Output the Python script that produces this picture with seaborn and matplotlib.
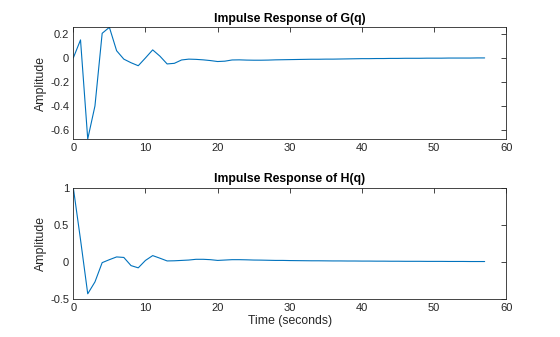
import numpy as np
import pandas as pd
import matplotlib
matplotlib.use("Agg")
import matplotlib.pyplot as plt
import seaborn as sns

time_s = list(range(58))
g_resp = [0.0, 0.15, -0.675, -0.40, 0.205, 0.255, 0.06, -0.01, -0.04, -0.065,
          0.0, 0.067, 0.015, -0.05, -0.045, -0.017, -0.01, -0.012, -0.016, -0.022,
          -0.03, -0.027, -0.017, -0.016, -0.018, -0.019, -0.019, -0.018, -0.016, -0.015,
          -0.014, -0.013, -0.012, -0.011, -0.011, -0.010, -0.010, -0.009, -0.008, -0.007,
          -0.006, -0.006, -0.005, -0.005, -0.004, -0.004, -0.003, -0.003, -0.003, -0.002,
          -0.002, -0.002, -0.001, -0.001, -0.001, -0.001, 0.0, 0.0]
h_resp = [1.0, 0.30, -0.43, -0.27, -0.01, 0.03, 0.067, 0.06, -0.05, -0.08,
          0.02, 0.085, 0.05, 0.013, 0.015, 0.02, 0.025, 0.035, 0.035, 0.03,
          0.02, 0.025, 0.03, 0.03, 0.028, 0.025, 0.024, 0.022, 0.02, 0.02,
          0.018, 0.017, 0.016, 0.015, 0.015, 0.014, 0.013, 0.013, 0.012, 0.012,
          0.011, 0.011, 0.010, 0.010, 0.009, 0.009, 0.008, 0.008, 0.008, 0.007,
          0.007, 0.007, 0.006, 0.006, 0.006, 0.005, 0.005, 0.005]
titles = ["Impulse Response of G(q)", "Impulse Response of H(q)"]
x_ticks = [0, 10, 20, 30, 40, 50, 60]
g_yticks = [-0.6, -0.4, -0.2, 0, 0.2]
h_yticks = [-0.5, 0, 0.5, 1]

sns.set_style("white")
plt.rcParams['font.family'] = ['Liberation Sans', 'DejaVu Sans']
plt.rcParams['axes.unicode_minus'] = False

df = pd.DataFrame({"t": time_s, "G": g_resp, "H": h_resp})

fig = plt.figure(figsize=(5.6, 3.37), dpi=100)
W, H = 560, 337
ax1 = fig.add_axes([73.3 / W, 1 - 139 / H, (506.3 - 73.3) / W, (139 - 27.3) / H])
ax2 = fig.add_axes([73.3 / W, 1 - 299 / H, (506.3 - 73.3) / W, (299 - 187.7) / H])

color = "#0072BD"
for ax, col, title, yt in [(ax1, "G", titles[0], g_yticks), (ax2, "H", titles[1], h_yticks)]:
    sns.lineplot(data=df, x="t", y=col, ax=ax, color=color, linewidth=0.8)
    ax.set_xlim(0, 60)
    ax.set_xticks(x_ticks)
    ax.set_yticks(yt)
    ax.set_yticklabels([("%g" % v) for v in yt])
    ax.set_title(title, fontsize=8.8, fontweight="bold", pad=4, color="black")
    ax.set_ylabel("Amplitude", fontsize=8.8, labelpad=2, color="#262626")
    ax.set_xlabel("")
    ax.tick_params(direction="in", top=True, right=True, length=3.3, width=0.6,
                   labelsize=8, colors="#262626", pad=3)
    for s in ax.spines.values():
        s.set_linewidth(0.6)
        s.set_color("#262626")
        s.set_visible(True)

ax1.set_ylim(min(g_resp), max(g_resp))
ax2.set_ylim(-0.5, 1)
ax2.set_xlabel("Time (seconds)", fontsize=8.8, labelpad=1, color="#262626")

fig.savefig("out.png", dpi=100, facecolor="white")
